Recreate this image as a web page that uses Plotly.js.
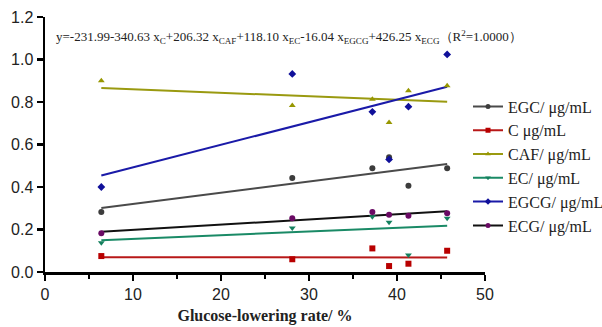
<!DOCTYPE html>
<html>
<head>
<meta charset="utf-8">
<script src="https://cdn.plot.ly/plotly-3.0.1.min.js"></script>
<style>html,body{margin:0;padding:0;background:#fff;}#chart{width:602px;height:327px;}</style>
</head>
<body>
<div id="chart"></div>
<script>
// Glucose-lowering rate (%)
const rate = [6.4, 28.1, 37.2, 39.1, 41.3, 45.7];
// Concentrations (µg/mL)
const EGC  = [0.282, 0.442, 0.488, 0.540, 0.406, 0.488];
const C    = [0.075, 0.060, 0.111, 0.028, 0.039, 0.100];
const CAF  = [0.900, 0.784, 0.813, 0.704, 0.853, 0.877];
const EC   = [0.138, 0.207, 0.260, 0.234, 0.080, 0.253];
const EGCG = [0.400, 0.932, 0.754, 0.530, 0.778, 1.024];
const ECG  = [0.182, 0.253, 0.282, 0.270, 0.265, 0.276];

const names = ["EGC/ μg/mL", "C μg/mL", "CAF/ μg/mL", "EC/ μg/mL", "EGCG/ μg/mL", "ECG/ μg/mL"];
const xTicks = [0, 10, 20, 30, 40, 50];
const yTicks = [0.0, 0.2, 0.4, 0.6, 0.8, 1.0, 1.2];

const series = [
  {y: EGC,  name: names[0], mc: "#3c3c3c", lc: "#4a4a4a", sym: "circle", ms: 6},
  {y: C,    name: names[1], mc: "#b80000", lc: "#b81818", sym: "square", ms: 6},
  {y: CAF,  name: names[2], mc: "#979700", lc: "#9a9a10", sym: "triangle-up", ms: 6},
  {y: EC,   name: names[3], mc: "#14805e", lc: "#1a8a66", sym: "triangle-down", ms: 6},
  {y: EGCG, name: names[4], mc: "#10109a", lc: "#1a1aa8", sym: "diamond", ms: 6},
  {y: ECG,  name: names[5], mc: "#6a0a64", lc: "#111111", sym: "circle", ms: 6}
];

function fit(xs, ys) {
  const n = xs.length;
  const mx = xs.reduce((a, b) => a + b, 0) / n;
  const my = ys.reduce((a, b) => a + b, 0) / n;
  let sxy = 0, sxx = 0;
  for (let i = 0; i < n; i++) { sxy += (xs[i] - mx) * (ys[i] - my); sxx += (xs[i] - mx) ** 2; }
  const b = sxy / sxx, a = my - b * mx;
  const x0 = Math.min(...xs), x1 = Math.max(...xs);
  return {x: [x0, x1], y: [a + b * x0, a + b * x1]};
}

const traces = [];
series.forEach((s, i) => {
  const f = fit(rate, s.y);
  traces.push({x: f.x, y: f.y, mode: "lines", line: {color: s.lc, width: 2}, showlegend: false, legendgroup: "g" + i, hoverinfo: "skip"});
});
series.forEach((s, i) => {
  traces.push({x: rate, y: s.y, mode: "markers", marker: {color: s.mc, symbol: s.sym, size: s.ms}, showlegend: false, legendgroup: "g" + i});
});
series.forEach((s, i) => {
  traces.push({x: [null], y: [null], mode: "lines+markers", name: s.name, legendgroup: "g" + i,
    line: {color: s.lc, width: 2}, marker: {color: s.mc, symbol: s.sym, size: 5}});
});

const eq = "y=-231.99-340.63 x<sub>C</sub>+206.32 x<sub>CAF</sub>+118.10 x<sub>EC</sub>-16.04 x<sub>EGCG</sub>+426.25 x<sub>ECG</sub>（R<sup>2</sup>=1.0000）";

const L = 45, R = 5, T = 17, B = 55, W = 602, H = 327;
const PW = W - L - R, PH = H - T - B;
const plotRight = 485;
const domEnd = (plotRight - L) / PW;

const layout = {
  width: W, height: H,
  margin: {l: L, r: R, t: T, b: B, autoexpand: false},
  paper_bgcolor: "#fff", plot_bgcolor: "#fff",
  showlegend: true,
  legend: {x: (468 - L) / PW, xanchor: "left", y: 1 - (89.5 - T) / PH, yanchor: "top",
    traceorder: "grouped", tracegroupgap: 0,
    font: {family: "Liberation Serif, Times New Roman, serif", size: 16, color: "#222"}, bgcolor: "rgba(0,0,0,0)"},
  xaxis: {domain: [0, domEnd], range: [0, 50], tickvals: xTicks, ticktext: xTicks.map(String), showgrid: false, zeroline: false,
    showline: true, linecolor: "#000", linewidth: 2.5, ticks: "outside", ticklen: 6, tickwidth: 2.5, tickcolor: "#000",
    minor: {dtick: 5, tick0: 0, ticks: "outside", ticklen: 4, tickwidth: 2.5, tickcolor: "#000", showgrid: false},
    tickfont: {family: "Liberation Sans, Arial, sans-serif", size: 16, color: "#222"},
    title: {text: "<b>Glucose-lowering rate/ %</b>", font: {family: "Liberation Serif, Times New Roman, serif", size: 16, color: "#222"}, standoff: 8}},
  yaxis: {range: [0, 1.2], tickvals: yTicks, ticktext: yTicks.map(v => v.toFixed(1)), showgrid: false, zeroline: false,
    showline: true, linecolor: "#000", linewidth: 2.5, ticks: "outside", ticklen: 6, tickwidth: 2.5, tickcolor: "#000",
    tickfont: {family: "Liberation Sans, Arial, sans-serif", size: 16, color: "#222"}},
  annotations: [{xref: "paper", yref: "paper", x: 9 / PW, y: 0.92, xanchor: "left", yanchor: "middle", showarrow: false,
    text: eq, font: {family: "Liberation Serif, Times New Roman, serif", size: 13, color: "#222"}}]
};

Plotly.newPlot("chart", traces, layout, {displayModeBar: false, staticPlot: true});
</script>
</body>
</html>
